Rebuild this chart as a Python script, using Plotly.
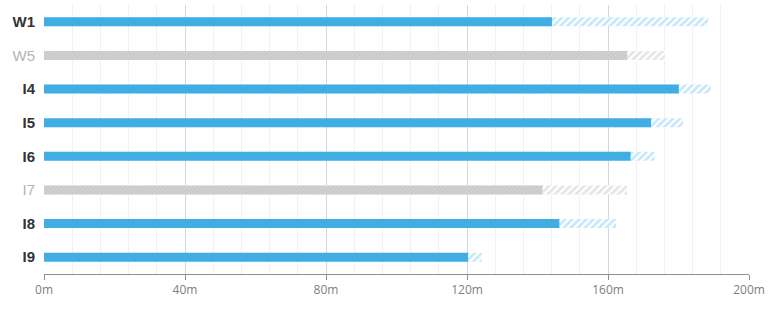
import plotly.graph_objects as go

categories = ["W1", "W5", "I4", "I5", "I6", "I7", "I8", "I9"]
actual = [144.1, 165.4, 180.1, 172.2, 166.4, 141.4, 146.2, 120.3]
projected = [188.4, 176.2, 189.2, 181.3, 173.2, 165.4, 162.3, 124.2]
inactive = ["W5", "I7"]
tick_vals = [0, 40, 80, 120, 160, 200]
tick_text = ["0m", "40m", "80m", "120m", "160m", "200m"]

BLUE = "#41aee3"
BLUE_HATCH = "#90d2f2"
GRAY = "#d2d2d2"
GRAY_LINE = "#b9b9b9"
GRAY_HATCH = "#cccccc"

act_idx = [i for i, c in enumerate(categories) if c not in inactive]
ina_idx = [i for i, c in enumerate(categories) if c in inactive]


def pick(lst, idx):
    return [lst[i] for i in idx]


fig = go.Figure()
W = 0.27

# projected (hatched) bars from zero, drawn behind
for idx, fg in ((act_idx, BLUE_HATCH), (ina_idx, GRAY_HATCH)):
    fig.add_trace(go.Bar(
        y=pick(categories, idx), x=pick(projected, idx), orientation="h",
        width=W,
        marker=dict(
            color="white", line=dict(width=0),
            pattern=dict(shape="/", fgcolor=fg, bgcolor="white",
                         size=5, solidity=0.55, fillmode="overlay"),
        ),
        hoverinfo="skip", showlegend=False,
    ))

# actual bars
fig.add_trace(go.Bar(
    y=pick(categories, act_idx), x=pick(actual, act_idx), orientation="h",
    width=W, marker=dict(color=BLUE, line=dict(width=0)),
    hoverinfo="skip", showlegend=False,
))
fig.add_trace(go.Bar(
    y=pick(categories, ina_idx), x=pick(actual, ina_idx), orientation="h",
    width=W,
    marker=dict(
        color=GRAY, line=dict(width=0),
        pattern=dict(shape="/", fgcolor=GRAY_LINE, bgcolor=GRAY,
                     size=3, solidity=0.4, fillmode="overlay"),
    ),
    hoverinfo="skip", showlegend=False,
))

ticktext_y = [
    f"<span style='color:#b4b4b4;font-weight:normal'>{c}</span>" if c in inactive
    else f"<b>{c}</b>" for c in categories
]

fig.update_layout(
    width=782, height=313,
    margin=dict(l=44, r=33, t=5, b=39),
    paper_bgcolor="white", plot_bgcolor="white",
    barmode="overlay",
    font=dict(family="Open Sans, sans-serif"),
    xaxis=dict(
        range=[0, 200],
        tickvals=tick_vals, ticktext=tick_text,
        showgrid=True, gridcolor="#d6d6de", gridwidth=1,
        minor=dict(dtick=8, showgrid=True, gridcolor="#f1f1f3", gridwidth=1),
        zeroline=False,
        showline=True, linecolor="#8c8c9a", linewidth=1,
        ticks="outside", ticklen=5, tickcolor="#8c8c9a",
        tickfont=dict(size=12, color="#808080"),
        fixedrange=True,
    ),
    yaxis=dict(
        categoryorder="array", categoryarray=categories,
        tickvals=categories, ticktext=ticktext_y,
        autorange=False, range=[7.5, -0.5],
        showgrid=False, zeroline=False, showline=False,
        ticks="", ticklabelstandoff=8,
        tickfont=dict(size=15, color="#333333", family="Liberation Sans, Arial, sans-serif"),
        fixedrange=True,
    ),
)

fig.write_html("out.html")
